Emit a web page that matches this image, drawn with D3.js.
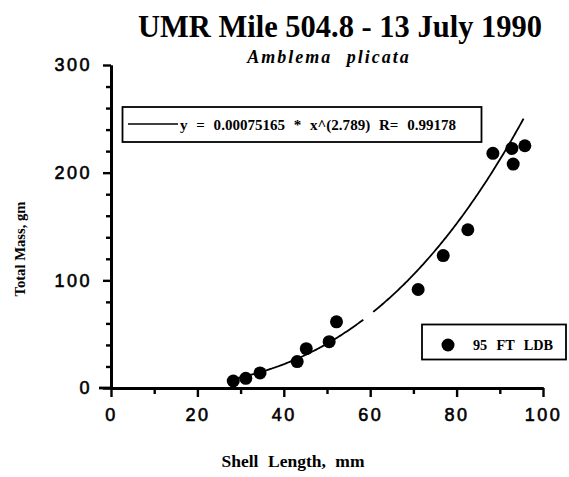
<!DOCTYPE html>
<html>
<head>
<meta charset="utf-8">
<script src="https://cdn.jsdelivr.net/npm/d3@7"></script>
<style>
  body { margin: 0; background: #fff; }
  svg { display: block; }
</style>
</head>
<body>
<svg id="chart" width="569" height="477"></svg>
<script>
// shell length (mm) and total mass (gm)
var shellLength = [28.3, 31.2, 34.5, 43.1, 45.2, 50.5, 52.2, 71.1, 76.9, 82.6, 88.4, 92.8, 93.1, 95.8];
var totalMass   = [6.5, 9.0, 14.0, 24.5, 36.5, 43.0, 61.5, 91.5, 123.0, 147.0, 218.0, 222.5, 208.0, 225.0];

// power fit y = a * x^b
var fitA = 0.00075165, fitB = 2.789;
var fitPieces = [[28, 58.4], [60.7, 95.5]];   // the scanned curve has a small break

var xMajor = [0, 20, 40, 60, 80, 100];
var xMinor = [10, 30, 50, 70, 90];
var yMajor = [0, 100, 200, 300];
var yMinor = [20, 40, 60, 80, 120, 140, 160, 180, 220, 240, 260, 280];

var svg = d3.select("#chart"),
    serif = "'Liberation Serif', 'DejaVu Serif', serif",
    sans = "'Liberation Sans', Arial, sans-serif";

var x = d3.scaleLinear().domain([0, 100]).range([111, 543]),
    y = d3.scaleLinear().domain([0, 300]).range([388, 65]);

// titles
svg.append("text")
  .attr("x", 340).attr("y", 37)
  .attr("text-anchor", "middle")
  .attr("textLength", 404).attr("lengthAdjust", "spacingAndGlyphs")
  .style("font-family", serif).style("font-weight", "bold").style("font-size", "31px")
  .text("UMR Mile 504.8 - 13 July 1990");

svg.append("text")
  .attr("x", 329).attr("y", 63)
  .attr("text-anchor", "middle")
  .style("font-family", serif).style("font-weight", "bold").style("font-style", "italic")
  .style("font-size", "18px")
  .style("letter-spacing", "2px").style("word-spacing", "8px")
  .text("Amblema plicata");

// axes: minor ticks first, major ticks with labels on top
var yMinorAxis = d3.axisLeft(y).tickValues(yMinor).tickSize(5).tickFormat("").tickSizeOuter(0);
var yAxis = d3.axisLeft(y).tickValues(yMajor).tickSize(8).tickPadding(11).tickSizeOuter(0);
var xMinorAxis = d3.axisBottom(x).tickValues(xMinor).tickSize(6).tickFormat("").tickSizeOuter(0);
var xAxis = d3.axisBottom(x).tickValues(xMajor).tickSize(9).tickPadding(11).tickSizeOuter(0);

[[yMinorAxis, "translate(111,0)"], [yAxis, "translate(111,0)"],
 [xMinorAxis, "translate(0,388)"], [xAxis, "translate(0,388)"]].forEach(function (a) {
  var g = svg.append("g").attr("transform", a[1]).call(a[0]);
  g.select(".domain").attr("stroke", "#000").attr("stroke-width", 2.8);
  g.selectAll(".tick line").attr("stroke", "#000").attr("stroke-width", 2.4);
});

svg.selectAll("g .tick text")
  .attr("fill", "#000")
  .attr("stroke", "#000").attr("stroke-width", 0.6)
  .style("font-family", sans)
  .style("font-size", "18px")
  .style("letter-spacing", "2.5px");

// extend x axis a bit left of the y axis like the scan
svg.append("line")
  .attr("x1", x(0) - 12).attr("x2", x(0))
  .attr("y1", y(0)).attr("y2", y(0))
  .attr("stroke", "#000").attr("stroke-width", 2.8);

// axis titles
svg.append("text")
  .attr("x", 293).attr("y", 467)
  .attr("text-anchor", "middle")
  .attr("textLength", 143).attr("lengthAdjust", "spacingAndGlyphs")
  .style("font-family", serif).style("font-weight", "bold").style("font-size", "17px")
  .style("word-spacing", "5px")
  .text("Shell Length, mm");

svg.append("text")
  .attr("transform", "translate(25,249) rotate(-90)")
  .attr("text-anchor", "middle")
  .attr("textLength", 95).attr("lengthAdjust", "spacingAndGlyphs")
  .style("font-family", serif).style("font-weight", "bold").style("font-size", "15px")
  .text("Total Mass, gm");

// fitted curve
var line = d3.line()
  .x(function (d) { return x(d); })
  .y(function (d) { return y(fitA * Math.pow(d, fitB)); });

fitPieces.forEach(function (p) {
  var pts = d3.range(p[0], p[1], 0.25).concat([p[1]]);
  svg.append("path")
    .attr("d", line(pts))
    .attr("fill", "none")
    .attr("stroke", "#000")
    .attr("stroke-width", 1.8);
});

// points
svg.selectAll("circle.dot")
  .data(shellLength)
  .enter().append("circle")
  .attr("class", "dot")
  .attr("cx", function (d) { return x(d); })
  .attr("cy", function (d, i) { return y(totalMass[i]); })
  .attr("r", 6.5)
  .attr("fill", "#000");

// legend: fit equation
var eq = svg.append("g");
eq.append("rect")
  .attr("x", 122.5).attr("y", 107).attr("width", 359).attr("height", 35)
  .attr("fill", "#fff").attr("stroke", "#000").attr("stroke-width", 1.8);
eq.append("line")
  .attr("x1", 128).attr("x2", 178).attr("y1", 124).attr("y2", 124)
  .attr("stroke", "#000").attr("stroke-width", 1.5);
eq.append("text")
  .attr("x", 180).attr("y", 130)
  .attr("textLength", 276).attr("lengthAdjust", "spacingAndGlyphs")
  .style("font-family", serif).style("font-weight", "bold").style("font-size", "15px")
  .style("word-spacing", "5px")
  .text("y = 0.00075165 * x^(2.789) R= 0.99178");

// legend: series
var lg = svg.append("g");
lg.append("rect")
  .attr("x", 422).attr("y", 324.5).attr("width", 144).attr("height", 35)
  .attr("fill", "#fff").attr("stroke", "#000").attr("stroke-width", 1.8);
lg.append("circle")
  .attr("cx", 448).attr("cy", 345).attr("r", 6.5).attr("fill", "#000");
lg.append("text")
  .attr("x", 473).attr("y", 350)
  .attr("textLength", 80).attr("lengthAdjust", "spacingAndGlyphs")
  .style("font-family", serif).style("font-weight", "bold").style("font-size", "15px")
  .style("word-spacing", "6px")
  .text("95 FT LDB");
</script>
</body>
</html>
